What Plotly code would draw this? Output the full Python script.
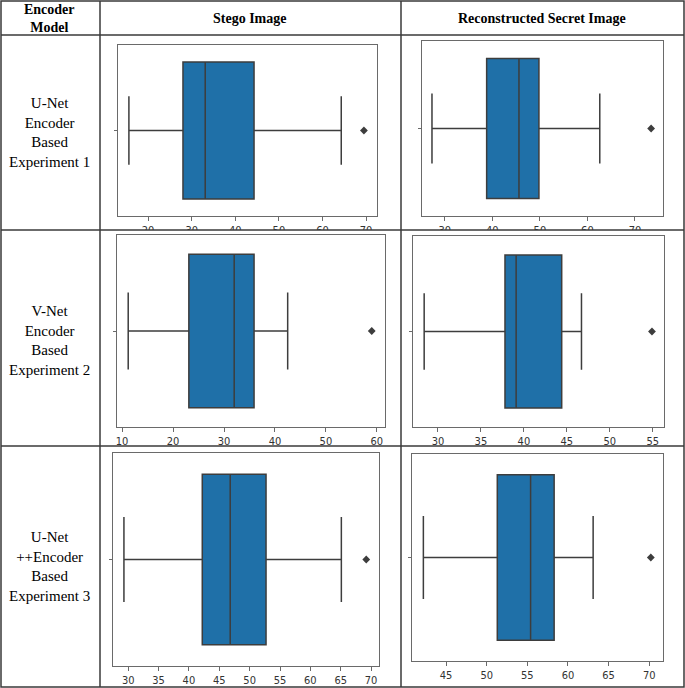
import plotly.graph_objects as go

W, H = 685, 688

# ---- data ----
row_labels = ["U-Net<br>Encoder<br>Based<br>Experiment 1",
              "V-Net<br>Encoder<br>Based<br>Experiment 2",
              "U-Net<br>++Encoder<br>Based<br>Experiment 3"]
col_headers = ["Encoder<br>Model", "Stego Image", "Reconstructed Secret Image"]

# order: row1 stego, row1 recon, row2 stego, row2 recon, row3 stego, row3 recon
whisker_low = [15.6, 27.3, 11.2, 28.4, 29.3, 42.2]
q1 = [28.0, 38.8, 23.1, 37.8, 42.2, 51.3]
median = [33.1, 45.6, 32.0, 39.1, 46.8, 55.4]
q3 = [44.3, 49.8, 35.9, 44.4, 52.7, 58.3]
whisker_high = [64.3, 62.6, 42.5, 46.7, 65.1, 63.1]
outlier = [69.5, 73.4, 59.0, 54.9, 69.2, 70.2]
x_ranges = [[13.1, 72.5], [25.2, 75.9], [9.0, 61.6], [27.1, 56.3], [27.5, 71.3], [40.8, 71.7]]
x_dtick = [10, 10, 10, 5, 5, 5]

# ---- layout geometry (pixels) ----
panels = [  # x0, x1, y0(top), y1(bottom)
    (118, 377, 45, 216),
    (422, 663, 41, 216),
    (117, 385, 235, 427),
    (413, 664, 236, 427),
    (113, 379, 453, 666),
    (412, 663, 454, 661),
]


def px(x):
    return x / W


def py(y):
    return 1 - y / H


BOX_FILL = "#1f70a8"
LINE = "#3d3d3d"
FRAME = "#6a6a6a"

fig = go.Figure()
layout = dict(width=W, height=H, margin=dict(l=0, r=0, t=0, b=0),
              paper_bgcolor="white", plot_bgcolor="white", showlegend=False)

for i, (x0, x1, y0, y1) in enumerate(panels):
    n = "" if i == 0 else str(i + 1)
    xa, ya = "x" + n, "y" + n
    fig.add_trace(go.Box(
        q1=[q1[i]], median=[median[i]], q3=[q3[i]],
        lowerfence=[whisker_low[i]], upperfence=[whisker_high[i]],
        y=[0], orientation="h", width=0.8, whiskerwidth=0.5,
        fillcolor=BOX_FILL, line=dict(color=LINE, width=1.5),
        boxpoints=False, hoverinfo="skip", xaxis=xa, yaxis=ya))
    fig.add_trace(go.Scatter(
        x=[outlier[i]], y=[0], mode="markers",
        marker=dict(symbol="diamond", size=6, color=LINE),
        hoverinfo="skip", xaxis=xa, yaxis=ya))
    layout["xaxis" + n] = dict(
        domain=[px(x0), px(x1)], anchor=ya, range=x_ranges[i],
        dtick=x_dtick[i], tick0=0, ticks="outside", ticklen=4, tickwidth=1,
        tickcolor=FRAME, showgrid=False, zeroline=False,
        showline=True, linecolor=FRAME, linewidth=1, mirror=True,
        tickfont=dict(family="DejaVu Sans Condensed, DejaVu Sans", size=11, color="#333333"))
    layout["yaxis" + n] = dict(
        domain=[py(y1), py(y0)], anchor=xa, range=[-0.5, 0.5],
        tickvals=[0], ticktext=[""], ticks="outside", ticklen=3, tickcolor=FRAME,
        showgrid=False, zeroline=False,
        showline=True, linecolor=FRAME, linewidth=1, mirror=True)

# ---- table lines and clipping masks ----
shapes = []
# white masks to clip tick labels at row dividers
for ytop, ybot in [(230, 234), (446, 452)]:
    shapes.append(dict(type="rect", xref="paper", yref="paper",
                       x0=px(101), x1=px(683), y0=py(ybot), y1=py(ytop),
                       fillcolor="white", line=dict(width=0), layer="above"))
TL = "#3a3a3a"
for yy in [35, 230, 446]:
    shapes.append(dict(type="line", xref="paper", yref="paper",
                       x0=px(1), x1=px(684), y0=py(yy), y1=py(yy),
                       line=dict(color=TL, width=1.5), layer="above"))
for xx in [100, 401]:
    shapes.append(dict(type="line", xref="paper", yref="paper",
                       x0=px(xx), x1=px(xx), y0=py(1), y1=py(687),
                       line=dict(color=TL, width=1.5), layer="above"))
shapes.append(dict(type="rect", xref="paper", yref="paper",
                   x0=px(1), x1=px(684), y0=py(687), y1=py(1),
                   line=dict(color=TL, width=1.5), fillcolor="rgba(0,0,0,0)", layer="above"))
layout["shapes"] = shapes

# ---- text ----
ann = []
hdr_x = [50, 250, 542]
for t, xc in zip(col_headers, hdr_x):
    ann.append(dict(text="<b>" + t + "</b>", x=px(xc), y=py(18), xref="paper", yref="paper",
                    showarrow=False, xanchor="center", yanchor="middle",
                    font=dict(family="Liberation Serif", size=14, color="black")))
for t, yc in zip(row_labels, [132, 340, 566]):
    ann.append(dict(text=t, x=px(50), y=py(yc), xref="paper", yref="paper",
                    showarrow=False, xanchor="center", yanchor="middle",
                    font=dict(family="Liberation Serif", size=15, color="black")))
layout["annotations"] = ann

fig.update_layout(**layout)
fig.write_html("out.html", config={"displayModeBar": False},
               post_script="document.body.style.margin='0';document.body.style.overflow='hidden';")
